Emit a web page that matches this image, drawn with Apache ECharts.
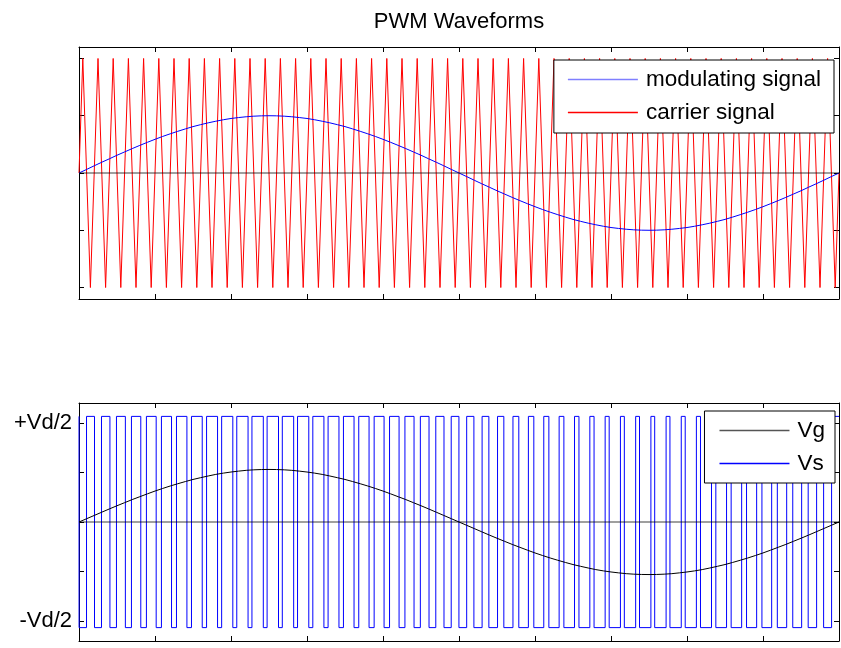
<!DOCTYPE html>
<html>
<head>
<meta charset="utf-8">
<title>PWM Waveforms</title>
<script src="https://cdn.jsdelivr.net/npm/echarts@6/dist/echarts.min.js"></script>
<style>
  html, body { margin: 0; padding: 0; background: #fff; }
  #chart { width: 841px; height: 648px; }
</style>
</head>
<body>
<div id="chart"></div>
<script>
// Time base in milliseconds: one 50 Hz fundamental period.
const sampleTimes = [
  0, 0.2, 0.4, 0.6, 0.8, 1, 1.2, 1.4, 1.6, 1.8, 2, 2.2, 2.4, 2.6, 2.8, 3, 3.2, 3.4, 3.6, 3.8,
  4, 4.2, 4.4, 4.6, 4.8, 5, 5.2, 5.4, 5.6, 5.8, 6, 6.2, 6.4, 6.6, 6.8, 7, 7.2, 7.4, 7.6, 7.8,
  8, 8.2, 8.4, 8.6, 8.8, 9, 9.2, 9.4, 9.6, 9.8, 10, 10.2, 10.4, 10.6, 10.8, 11, 11.2, 11.4, 11.6, 11.8,
  12, 12.2, 12.4, 12.6, 12.8, 13, 13.2, 13.4, 13.6, 13.8, 14, 14.2, 14.4, 14.6, 14.8, 15, 15.2, 15.4, 15.6, 15.8,
  16, 16.2, 16.4, 16.6, 16.8, 17, 17.2, 17.4, 17.6, 17.8, 18, 18.2, 18.4, 18.6, 18.8, 19, 19.2, 19.4, 19.6, 19.8, 20
];

// Modulating (reference) signal, amplitude 0.5.
const modulating = [
  0, 0.031, 0.063, 0.094, 0.124, 0.155, 0.184, 0.213, 0.241, 0.268, 0.294, 0.319, 0.342, 0.364, 0.385,
  0.405, 0.422, 0.438, 0.452, 0.465, 0.476, 0.484, 0.491, 0.496, 0.499, 0.5,
  0.499, 0.496, 0.491, 0.484, 0.476, 0.465, 0.452, 0.438, 0.422, 0.405, 0.385, 0.364, 0.342, 0.319,
  0.294, 0.268, 0.241, 0.213, 0.184, 0.155, 0.124, 0.094, 0.063, 0.031, 0,
  -0.031, -0.063, -0.094, -0.124, -0.155, -0.184, -0.213, -0.241, -0.268, -0.294, -0.319, -0.342, -0.364, -0.385,
  -0.405, -0.422, -0.438, -0.452, -0.465, -0.476, -0.484, -0.491, -0.496, -0.499, -0.5,
  -0.499, -0.496, -0.491, -0.484, -0.476, -0.465, -0.452, -0.438, -0.422, -0.405, -0.385, -0.364, -0.342, -0.319,
  -0.294, -0.268, -0.241, -0.213, -0.184, -0.155, -0.124, -0.094, -0.063, -0.031, 0
];

// Gate reference Vg on the lower axes.
const vg = [
  0, 0.033, 0.066, 0.099, 0.132, 0.164, 0.195, 0.226, 0.255, 0.284, 0.312, 0.338, 0.363, 0.386, 0.408,
  0.429, 0.447, 0.464, 0.480, 0.493, 0.504, 0.513, 0.521, 0.526, 0.529, 0.53,
  0.529, 0.526, 0.521, 0.513, 0.504, 0.493, 0.480, 0.464, 0.447, 0.429, 0.408, 0.386, 0.363, 0.338,
  0.312, 0.284, 0.255, 0.226, 0.195, 0.164, 0.132, 0.099, 0.066, 0.033, 0,
  -0.033, -0.066, -0.099, -0.132, -0.164, -0.195, -0.226, -0.255, -0.284, -0.312, -0.338, -0.363, -0.386, -0.408,
  -0.429, -0.447, -0.464, -0.480, -0.493, -0.504, -0.513, -0.521, -0.526, -0.529, -0.53,
  -0.529, -0.526, -0.521, -0.513, -0.504, -0.493, -0.480, -0.464, -0.447, -0.429, -0.408, -0.386, -0.363, -0.338,
  -0.312, -0.284, -0.255, -0.226, -0.195, -0.164, -0.132, -0.099, -0.066, -0.033, 0
];

// Triangular carrier: vertex times (ms) and vertex values.
const carrierTimes = [
  0, 0.1, 0.3, 0.5, 0.7, 0.9, 1.1, 1.3, 1.5, 1.7, 1.9, 2.1, 2.3, 2.5, 2.7, 2.9, 3.1, 3.3, 3.5, 3.7, 3.9,
  4.1, 4.3, 4.5, 4.7, 4.9, 5.1, 5.3, 5.5, 5.7, 5.9, 6.1, 6.3, 6.5, 6.7, 6.9, 7.1, 7.3, 7.5, 7.7, 7.9,
  8.1, 8.3, 8.5, 8.7, 8.9, 9.1, 9.3, 9.5, 9.7, 9.9, 10.1, 10.3, 10.5, 10.7, 10.9, 11.1, 11.3, 11.5, 11.7, 11.9,
  12.1, 12.3, 12.5, 12.7, 12.9, 13.1, 13.3, 13.5, 13.7, 13.9, 14.1, 14.3, 14.5, 14.7, 14.9, 15.1, 15.3, 15.5, 15.7, 15.9,
  16.1, 16.3, 16.5, 16.7, 16.9, 17.1, 17.3, 17.5, 17.7, 17.9, 18.1, 18.3, 18.5, 18.7, 18.9, 19.1, 19.3, 19.5, 19.7, 19.9, 20
];
const carrierValues = [
  0,
  1, -1, 1, -1, 1, -1, 1, -1, 1, -1, 1, -1, 1, -1, 1, -1, 1, -1, 1, -1,
  1, -1, 1, -1, 1, -1, 1, -1, 1, -1, 1, -1, 1, -1, 1, -1, 1, -1, 1, -1,
  1, -1, 1, -1, 1, -1, 1, -1, 1, -1, 1, -1, 1, -1, 1, -1, 1, -1, 1, -1,
  1, -1, 1, -1, 1, -1, 1, -1, 1, -1, 1, -1, 1, -1, 1, -1, 1, -1, 1, -1,
  1, -1, 1, -1, 1, -1, 1, -1, 1, -1, 1, -1, 1, -1, 1, -1, 1, -1, 1, -1,
  0
];

// Switched output Vs: level and the start/end times (ms) of each low interval.
const vsLevel = 1.065;
const vsLowStart = [
  0.002, 0.408, 0.814, 1.220, 1.626, 2.031, 2.435, 2.840, 3.243, 3.646,
  4.048, 4.449, 4.850, 5.250, 5.649, 6.047, 6.445, 6.841, 7.238, 7.633,
  8.028, 8.423, 8.817, 9.211, 9.605, 9.998, 10.392, 10.786, 11.180, 11.574,
  11.969, 12.365, 12.760, 13.157, 13.554, 13.952, 14.351, 14.750, 15.150, 15.551,
  15.953, 16.355, 16.759, 17.162, 17.567, 17.972, 18.377, 18.783, 19.189, 19.595
];
const vsLowEnd = [
  0.198, 0.592, 0.986, 1.380, 1.774, 2.169, 2.565, 2.960, 3.357, 3.754,
  4.152, 4.551, 4.950, 5.350, 5.751, 6.153, 6.555, 6.959, 7.362, 7.767,
  8.172, 8.577, 8.983, 9.389, 9.795, 10.202, 10.608, 11.014, 11.420, 11.826,
  12.231, 12.635, 13.040, 13.443, 13.846, 14.248, 14.649, 15.050, 15.450, 15.849,
  16.247, 16.645, 17.041, 17.438, 17.833, 18.228, 18.623, 19.017, 19.411, 19.805
];

// Axis ticks and labels.
const xRange = [0, 20];
const xTickInterval = 2;
const topYRange = [-1.1, 1.1];
const bottomYRange = [-1.2, 1.2];
const yTickValues = [-1, -0.5, 0, 0.5, 1];
const yLabelValues = [1, -1];
const yLabelTexts = ['+Vd/2', '-Vd/2'];

const FONT = '"Liberation Sans", Arial, Helvetica, sans-serif';
const RED = '#ff0000', BLUE = '#0000ff', BLACK = '#000000';

function zip(xs, ys) { return xs.map((x, i) => [x, ys[i]]); }

function vsPoints() {
  const pts = [[xRange[0], vsLevel]];
  vsLowStart.forEach((s, i) => {
    const e = vsLowEnd[i];
    pts.push([s, vsLevel], [s, -vsLevel], [e, -vsLevel], [e, vsLevel]);
  });
  pts.push([xRange[1], vsLevel]);
  return pts;
}

function makeXAxis(gridIndex, position) {
  return {
    type: 'value', gridIndex, position,
    min: xRange[0], max: xRange[1], interval: xTickInterval,
    axisLine: { show: true, onZero: false, lineStyle: { color: BLACK, width: 1 } },
    axisTick: { show: true, inside: true, length: 5, lineStyle: { color: BLACK, width: 1 } },
    axisLabel: { show: false },
    splitLine: { show: false }
  };
}

function makeYAxis(gridIndex, position, range, labelled) {
  return {
    type: 'value', gridIndex, position,
    min: range[0], max: range[1],
    axisLine: { show: true, onZero: false, lineStyle: { color: BLACK, width: 1 } },
    axisTick: { show: true, inside: true, length: 5, customValues: yTickValues, lineStyle: { color: BLACK, width: 1 } },
    axisLabel: labelled ? {
      show: true, customValues: yLabelValues, margin: 7,
      fontSize: 22, color: BLACK, fontFamily: FONT,
      formatter: v => yLabelTexts[yLabelValues.indexOf(v)]
    } : { show: false },
    splitLine: { show: false }
  };
}

const zeroLine = {
  silent: true, symbol: 'none', animation: false,
  label: { show: false },
  lineStyle: { color: BLACK, width: 1.5, type: 'solid', opacity: 0.5 },
  emphasis: { disabled: true },
  data: [{ yAxis: 0 }]
};

function legendItem(name, color) {
  return { name, icon: 'rect', itemStyle: { color, borderWidth: 0 } };
}

const legendBase = {
  orient: 'vertical',
  itemWidth: 70, itemHeight: 1.5, itemGap: 8,
  backgroundColor: '#fff', borderColor: BLACK, borderWidth: 1, borderRadius: 0,
  selectedMode: false,
  textStyle: { fontSize: 22.5, fontFamily: FONT, color: BLACK, lineHeight: 25, padding: [0, 0, 0, 3] }
};

const chart = echarts.init(document.getElementById('chart'), null, { renderer: 'canvas' });
chart.setOption({
  animation: false,
  backgroundColor: '#fff',
  title: {
    text: 'PWM Waveforms', left: 459, top: 11, textAlign: 'center', padding: 0,
    textStyle: { fontSize: 22, fontWeight: 'normal', fontFamily: FONT, color: BLACK }
  },
  grid: [
    { left: 79, right: 2, top: 47, height: 252 },
    { left: 79, right: 2, top: 403, height: 238 }
  ],
  xAxis: [
    makeXAxis(0, 'bottom'), makeXAxis(0, 'top'),
    makeXAxis(1, 'bottom'), makeXAxis(1, 'top')
  ],
  yAxis: [
    makeYAxis(0, 'left', topYRange, false), makeYAxis(0, 'right', topYRange, false),
    makeYAxis(1, 'left', bottomYRange, true), makeYAxis(1, 'right', bottomYRange, false)
  ],
  legend: [
    Object.assign({}, legendBase, {
      data: [legendItem('modulating signal', '#7f7fff'), legendItem('carrier signal', RED)],
      right: 7, top: 60, padding: [7, 13, 8, 14]
    }),
    Object.assign({}, legendBase, {
      data: [legendItem('Vg', '#555555'), legendItem('Vs', BLUE)],
      right: 6, top: 411, padding: [7, 10, 7, 15]
    })
  ],
  series: [
    {
      name: 'carrier signal', type: 'line', xAxisIndex: 0, yAxisIndex: 0,
      data: zip(carrierTimes, carrierValues),
      color: RED, itemStyle: { color: RED }, symbol: 'none', showSymbol: false,
      lineStyle: { color: RED, width: 1 }, z: 2
    },
    {
      name: 'modulating signal', type: 'line', xAxisIndex: 0, yAxisIndex: 0,
      data: zip(sampleTimes, modulating),
      color: BLUE, itemStyle: { color: BLUE }, symbol: 'none', showSymbol: false,
      lineStyle: { color: BLUE, width: 1 }, z: 3,
      markLine: zeroLine
    },
    {
      name: 'Vs', type: 'line', xAxisIndex: 2, yAxisIndex: 2,
      data: vsPoints(),
      color: BLUE, itemStyle: { color: BLUE }, symbol: 'none', showSymbol: false,
      lineStyle: { color: BLUE, width: 1 }, z: 2
    },
    {
      name: 'Vg', type: 'line', xAxisIndex: 2, yAxisIndex: 2,
      data: zip(sampleTimes, vg),
      color: BLACK, itemStyle: { color: BLACK }, symbol: 'none', showSymbol: false,
      lineStyle: { color: BLACK, width: 1 }, z: 3,
      markLine: zeroLine
    }
  ]
});
</script>
</body>
</html>
